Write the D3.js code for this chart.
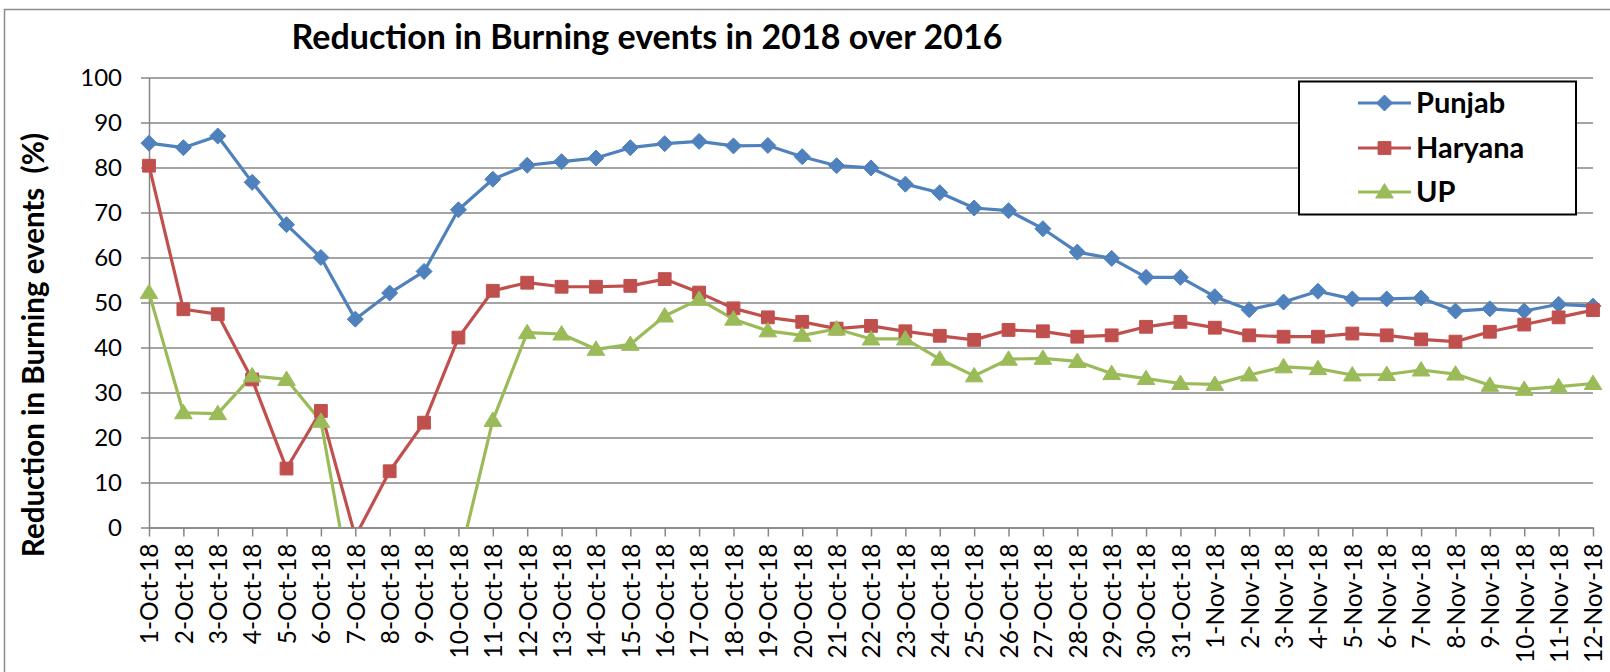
<!DOCTYPE html>
<html>
<head>
<meta charset="utf-8">
<script src="https://cdn.jsdelivr.net/npm/d3@7"></script>
<style>
  html, body { margin: 0; padding: 0; background: #fff; }
  svg { display: block; }
  text { font-family: Lato, "Open Sans", sans-serif; fill: #000; white-space: pre; }
</style>
</head>
<body>
<svg id="chart" width="1610" height="672"></svg>
<script>
const categories = ["1-Oct-18","2-Oct-18","3-Oct-18","4-Oct-18","5-Oct-18","6-Oct-18","7-Oct-18","8-Oct-18","9-Oct-18","10-Oct-18",
  "11-Oct-18","12-Oct-18","13-Oct-18","14-Oct-18","15-Oct-18","16-Oct-18","17-Oct-18","18-Oct-18","19-Oct-18","20-Oct-18",
  "21-Oct-18","22-Oct-18","23-Oct-18","24-Oct-18","25-Oct-18","26-Oct-18","27-Oct-18","28-Oct-18","29-Oct-18","30-Oct-18",
  "31-Oct-18","1-Nov-18","2-Nov-18","3-Nov-18","4-Nov-18","5-Nov-18","6-Nov-18","7-Nov-18","8-Nov-18","9-Nov-18",
  "10-Nov-18","11-Nov-18","12-Nov-18"];

const punjab = [85.4,84.4,87.0,76.7,67.3,60.0,46.3,52.1,56.9,70.6,
  77.4,80.5,81.3,82.1,84.4,85.3,85.8,84.8,84.9,82.4,
  80.4,79.9,76.3,74.4,71.0,70.4,66.4,61.2,59.8,55.6,
  55.6,51.3,48.4,50.1,52.5,50.8,50.8,51.0,48.1,48.6,
  48.1,49.6,49.2];

const haryana = [80.4,48.5,47.4,32.9,13.1,25.9,-2.0,12.5,23.3,42.2,
  52.6,54.4,53.5,53.5,53.7,55.2,52.2,48.7,46.7,45.7,
  44.2,44.8,43.6,42.6,41.7,43.9,43.6,42.4,42.7,44.6,
  45.7,44.4,42.7,42.4,42.4,43.1,42.7,41.8,41.3,43.5,
  45.1,46.7,48.3];

const up = [52.2,25.5,25.3,33.7,32.9,23.6,-19.0,-30.0,-20.0,-8.0,
  23.8,43.3,43.0,39.6,40.7,47.0,50.7,46.3,43.7,42.7,
  44.1,41.9,41.9,37.4,33.7,37.4,37.6,36.9,34.2,33.1,
  32.0,31.8,33.9,35.7,35.3,33.9,34.0,35.0,34.1,31.6,
  30.7,31.3,32.0];

const yTicks = [0,10,20,30,40,50,60,70,80,90,100];
const seriesNames = ["Punjab","Haryana","UP"];
const seriesColors = ["#4F81BD","#C0504D","#9BBB59"];
const seriesMarkers = ["diamond","square","triangle"];
const titleText = "Reduction in Burning events in 2018 over 2016";
const yTitleText = "Reduction in Burning events  (%)";

const series = seriesNames.map((n,i) => ({name:n, values:[punjab,haryana,up][i], color:seriesColors[i], marker:seriesMarkers[i]}));

const svg = d3.select("#chart");
const pLeft = 149, pRight = 1593, pTop = 77.5, pBottom = 527.5;

const x = d3.scalePoint().domain(categories).range([pLeft, pRight]);
const y = d3.scaleLinear().domain([0,100]).range([pBottom, pTop]);

// outer chart border (left + top visible)
svg.append("path")
  .attr("d", "M4.5,672 L4.5,9.5 L1610,9.5")
  .attr("fill","none").attr("stroke","#8c8c8c").attr("stroke-width",1.5);

// gridlines + y ticks
const yAxis = d3.axisLeft(y).tickValues(yTicks).tickSize(-(pRight-pLeft)).tickSizeOuter(0).tickPadding(0).tickFormat(d3.format("d"));
const gy = svg.append("g").attr("transform", `translate(${pLeft},0)`).call(yAxis);
gy.select(".domain").attr("stroke","#868686").attr("stroke-width",1.5);
gy.selectAll(".tick line").attr("stroke","#868686").attr("stroke-width",1.5).attr("x1",-8);
gy.selectAll(".tick text").attr("x",-27).attr("font-size","24px").attr("dy","0.35em").attr("fill","#000");

// x axis
const xAxis = d3.axisBottom(x).tickSize(9).tickSizeOuter(0);
const gx = svg.append("g").attr("transform", `translate(0,${pBottom})`).call(xAxis);
gx.select(".domain").attr("stroke","#868686").attr("stroke-width",1.5);
gx.selectAll(".tick line").attr("stroke","#868686").attr("stroke-width",1.5);
gx.selectAll(".tick text")
  .attr("font-size","24.5px").attr("fill","#000")
  .attr("transform","rotate(-90)")
  .attr("text-anchor","end")
  .attr("x",-16).attr("y",0).attr("dy","0.36em");

// clip lines/markers to plot area (values below zero hidden)
svg.append("clipPath").attr("id","lineclip")
  .append("rect").attr("x",0).attr("y",0).attr("width",1610).attr("height",pBottom);

const line = d3.line().x((d,i)=>x(categories[i])).y(d=>y(d));

function markerPath(type, s) {
  if (type==="diamond") return `M0,${-s} L${s},0 L0,${s} L${-s},0 Z`;
  if (type==="square") return `M${-s*0.8},${-s*0.8} H${s*0.8} V${s*0.8} H${-s*0.8} Z`;
  return `M0,${-s*1.05} L${s*1.1},${s*0.75} L${-s*1.1},${s*0.75} Z`;
}

const linesG = svg.append("g").attr("clip-path","url(#lineclip)");
series.forEach(s => {
  linesG.append("path").datum(s.values)
    .attr("d", line).attr("fill","none").attr("stroke", s.color)
    .attr("stroke-width",3.2).attr("stroke-linejoin","round");
});
series.forEach(s => {
  linesG.append("g").selectAll("path").data(s.values).join("path")
    .attr("transform",(d,i)=>`translate(${x(categories[i])},${y(d)})`)
    .attr("d", markerPath(s.marker, 8))
    .attr("fill", s.color).attr("stroke", s.color).attr("stroke-width",1);
});

// title
svg.append("text").attr("x",647).attr("y",49).attr("text-anchor","middle")
  .attr("font-size","34px").attr("font-weight","bold").text(titleText);

// y axis title
svg.append("text").attr("transform","translate(44,345) rotate(-90)")
  .attr("text-anchor","middle").attr("font-size","29.5px").attr("font-weight","bold").text(yTitleText);

// legend
const lg = svg.append("g");
lg.append("rect").attr("x",1299).attr("y",81.5).attr("width",277).attr("height",133)
  .attr("fill","#fff").attr("stroke","#000").attr("stroke-width",2);
const legY = [103, 148, 192];
series.forEach((s,i) => {
  lg.append("line").attr("x1",1358).attr("x2",1411).attr("y1",legY[i]).attr("y2",legY[i])
    .attr("stroke",s.color).attr("stroke-width",3.2);
  lg.append("path").attr("transform",`translate(1384.5,${legY[i]})`)
    .attr("d",markerPath(s.marker,8)).attr("fill",s.color).attr("stroke",s.color);
  lg.append("text").attr("x",1416).attr("y",legY[i]).attr("dy","0.36em")
    .attr("font-size","29px").attr("font-weight","bold").text(s.name);
});
</script>
</body>
</html>
